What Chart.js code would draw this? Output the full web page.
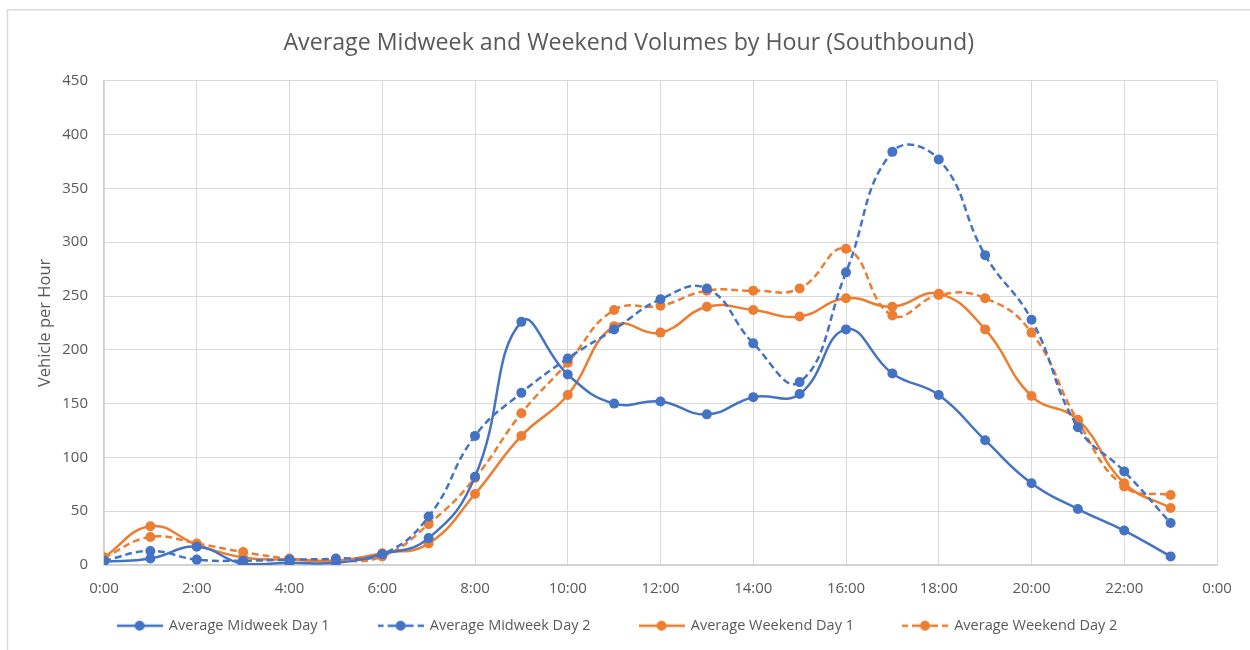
<!DOCTYPE html>
<html>
<head>
<meta charset="utf-8">
<script src="https://cdn.jsdelivr.net/npm/chart.js@4"></script>
<style>
  html, body { margin: 0; padding: 0; background: #ffffff; overflow: hidden; }
  #wrap { position: relative; width: 1250px; height: 650px; }
</style>
</head>
<body>
<div id="wrap"><canvas id="c" width="1250" height="650"></canvas></div>
<script>
const chartTitle = 'Average Midweek and Weekend Volumes by Hour (Southbound)';
const yAxisTitle = 'Vehicle per Hour';
const hours = [0, 1, 2, 3, 4, 5, 6, 7, 8, 9, 10, 11, 12, 13, 14, 15, 16, 17, 18, 19, 20, 21, 22, 23];
const seriesNames = ['Average Midweek Day 1', 'Average Midweek Day 2', 'Average Weekend Day 1', 'Average Weekend Day 2'];
const midweekDay1 = [3, 6, 17, 1, 2, 2, 10, 25, 82, 226, 177, 150, 152, 140, 156, 159, 219, 178, 158, 116, 76, 52, 32, 8];
const midweekDay2 = [4, 13, 5, 4, 5, 6, 10, 45, 120, 160, 192, 219, 247, 257, 206, 170, 272, 384, 377, 288, 228, 128, 87, 39];
const weekendDay1 = [7, 36, 19, 7, 5, 4, 11, 20, 66, 120, 158, 222, 216, 240, 237, 231, 248, 240, 252, 219, 157, 135, 76, 53];
const weekendDay2 = [7, 26, 20, 12, 6, 4, 8, 38, 81, 141, 188, 237, 241, 255, 255, 257, 294, 232, 251, 248, 216, 134, 73, 65];
const xTickHours = [0, 2, 4, 6, 8, 10, 12, 14, 16, 18, 20, 22, 24];

const BLUE = '#4472C4';
const ORANGE = '#ED7D31';
const TEXT = '#595959';
const GRID = '#D9D9D9';
const FONT = "'Open Sans', 'Noto Sans', sans-serif";

function legendImage(color, dashed) {
  const cv = document.createElement('canvas');
  cv.width = 46; cv.height = 12;
  const g = cv.getContext('2d');
  g.strokeStyle = color;
  g.lineWidth = 2.5;
  g.beginPath();
  if (dashed) {
    g.moveTo(0, 6); g.lineTo(6, 6);
    g.moveTo(10, 6); g.lineTo(18, 6);
    g.moveTo(28, 6); g.lineTo(36, 6);
    g.moveTo(40, 6); g.lineTo(46, 6);
  } else {
    g.moveTo(0, 6); g.lineTo(46, 6);
  }
  g.stroke();
  g.fillStyle = color;
  g.beginPath(); g.arc(23, 6, 5, 0, Math.PI * 2); g.fill();
  return cv;
}

const seriesDefs = [
  { name: seriesNames[0], values: midweekDay1, color: BLUE, dashed: false },
  { name: seriesNames[1], values: midweekDay2, color: BLUE, dashed: true },
  { name: seriesNames[2], values: weekendDay1, color: ORANGE, dashed: false },
  { name: seriesNames[3], values: weekendDay2, color: ORANGE, dashed: true }
];
const legendImgs = seriesDefs.map(s => legendImage(s.color, s.dashed));

const datasets = seriesDefs.map(s => ({
  label: s.name,
  data: hours.map((h, i) => ({ x: h, y: s.values[i] })),
  borderColor: s.color,
  backgroundColor: s.color,
  pointBackgroundColor: s.color,
  pointBorderColor: s.color,
  borderWidth: 2.5,
  borderDash: s.dashed ? [7, 4] : [],
  pointRadius: 5,
  pointBorderWidth: 0,
  pointHoverRadius: 5,
  tension: 0.45,
  fill: false
}));

const framePlugin = {
  id: 'frame',
  afterLayout(chart) {
    // let the x tick labels draw below the (thin) axis box
    chart.scales.x.bottom = chart.scales.x.top + 45;
    // centre the title over the whole chart frame
    if (chart.titleBlock) { chart.titleBlock.left = 7.5; chart.titleBlock.right = 1250; }
    if (chart.legend) { chart.legend.left += 5; chart.legend.right += 5; }
  },
  beforeDraw(chart) {
    const ctx = chart.ctx;
    ctx.save();
    ctx.fillStyle = '#ffffff';
    ctx.fillRect(0, 0, chart.width, chart.height);
    ctx.strokeStyle = '#D9D9D9';
    ctx.lineWidth = 1.5;
    ctx.beginPath();
    ctx.moveTo(7.5, 650);
    ctx.lineTo(7.5, 9.75);
    ctx.lineTo(1250, 9.75);
    ctx.stroke();
    ctx.restore();
  }
};

new Chart(document.getElementById('c'), {
  type: 'line',
  data: { datasets },
  plugins: [framePlugin],
  options: {
    responsive: false,
    animation: false,
    events: [],
    layout: { padding: { left: 8, right: 33, top: 0, bottom: 7 } },
    plugins: {
      title: {
        display: true,
        text: chartTitle,
        color: TEXT,
        font: { family: FONT, size: 23.2, weight: 'normal' },
        padding: { top: 29, bottom: 24 }
      },
      legend: {
        position: 'bottom',
        labels: {
          usePointStyle: true,
          pointStyleWidth: 44,
          padding: 49,
          color: TEXT,
          font: { family: FONT, size: 14.5 },
          generateLabels(chart) {
            const base = Chart.defaults.plugins.legend.labels.generateLabels(chart);
            return base.map((l, i) => Object.assign(l, { pointStyle: legendImgs[i] }));
          }
        }
      },
      tooltip: { enabled: false }
    },
    scales: {
      x: {
        type: 'linear',
        min: 0,
        max: 24,
        afterBuildTicks(scale) { scale.ticks = xTickHours.map(v => ({ value: v })); },
        afterFit(scale) { scale.height = 4.5; },
        ticks: {
          color: TEXT,
          font: { family: FONT, size: 15 },
          padding: 15,
          maxRotation: 0,
          autoSkip: false,
          callback: v => (v % 24) + ':00'
        },
        grid: { color: GRID, lineWidth: 1, drawTicks: false },
        border: { color: '#D0D0D0', width: 1.5 }
      },
      y: {
        min: 0,
        max: 450,
        afterFit(scale) { scale.width = 96; },
        ticks: {
          stepSize: 50,
          color: TEXT,
          font: { family: FONT, size: 15 },
          padding: 16
        },
        grid: { color: GRID, lineWidth: 1, drawTicks: false },
        border: { color: '#D0D0D0', width: 1.5 },
        title: {
          display: true,
          text: yAxisTitle,
          color: TEXT,
          font: { family: FONT, size: 16.5, weight: 'normal' },
          padding: { top: 27, bottom: 0 }
        }
      }
    }
  }
});
</script>
</body>
</html>
